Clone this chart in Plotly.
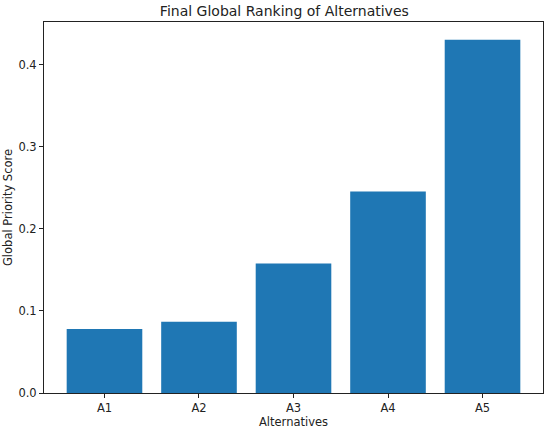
import plotly.graph_objects as go

alternatives = ["A1", "A2", "A3", "A4", "A5"]
scores = [0.0779, 0.0867, 0.1577, 0.2457, 0.4307]
y_ticks = [0.0, 0.1, 0.2, 0.3, 0.4]

font = "DejaVu Sans"

fig = go.Figure()
fig.add_trace(go.Bar(x=alternatives, y=scores, marker=dict(color="#1f77b4", line=dict(width=0))))

axis_style = dict(showline=True, linecolor="#222222", linewidth=1, mirror=True,
                  ticks="outside", ticklen=4, tickcolor="#222222", showgrid=False,
                  zeroline=False, automargin=False,
                  tickfont=dict(family=font, size=11.5, color="#222222"))

fig.update_layout(
    width=550, height=432,
    margin=dict(l=44, r=7, t=22, b=39),
    paper_bgcolor="white", plot_bgcolor="white",
    bargap=0.2, showlegend=False,
    title=dict(text="Final Global Ranking of Alternatives", x=0.517, xanchor="center",
               y=0.975, yref="container", yanchor="middle",
               font=dict(family=font, size=14, color="#222222")),
    xaxis=dict(axis_style, range=[-0.64, 4.64],
               title=dict(text="Alternatives", standoff=3, font=dict(family=font, size=11.5, color="#222222"))),
    yaxis=dict(axis_style, range=[0, 0.4522], tickvals=y_ticks, tickformat=".1f",
               title=dict(text="Global Priority Score", standoff=3, font=dict(family=font, size=11.5, color="#222222"))),
)

# drop the browser's default body margin so the 550x432 figure fills the window
fig.write_html("out.html", config={"displayModeBar": False},
               post_script="document.body.style.margin='0';")
